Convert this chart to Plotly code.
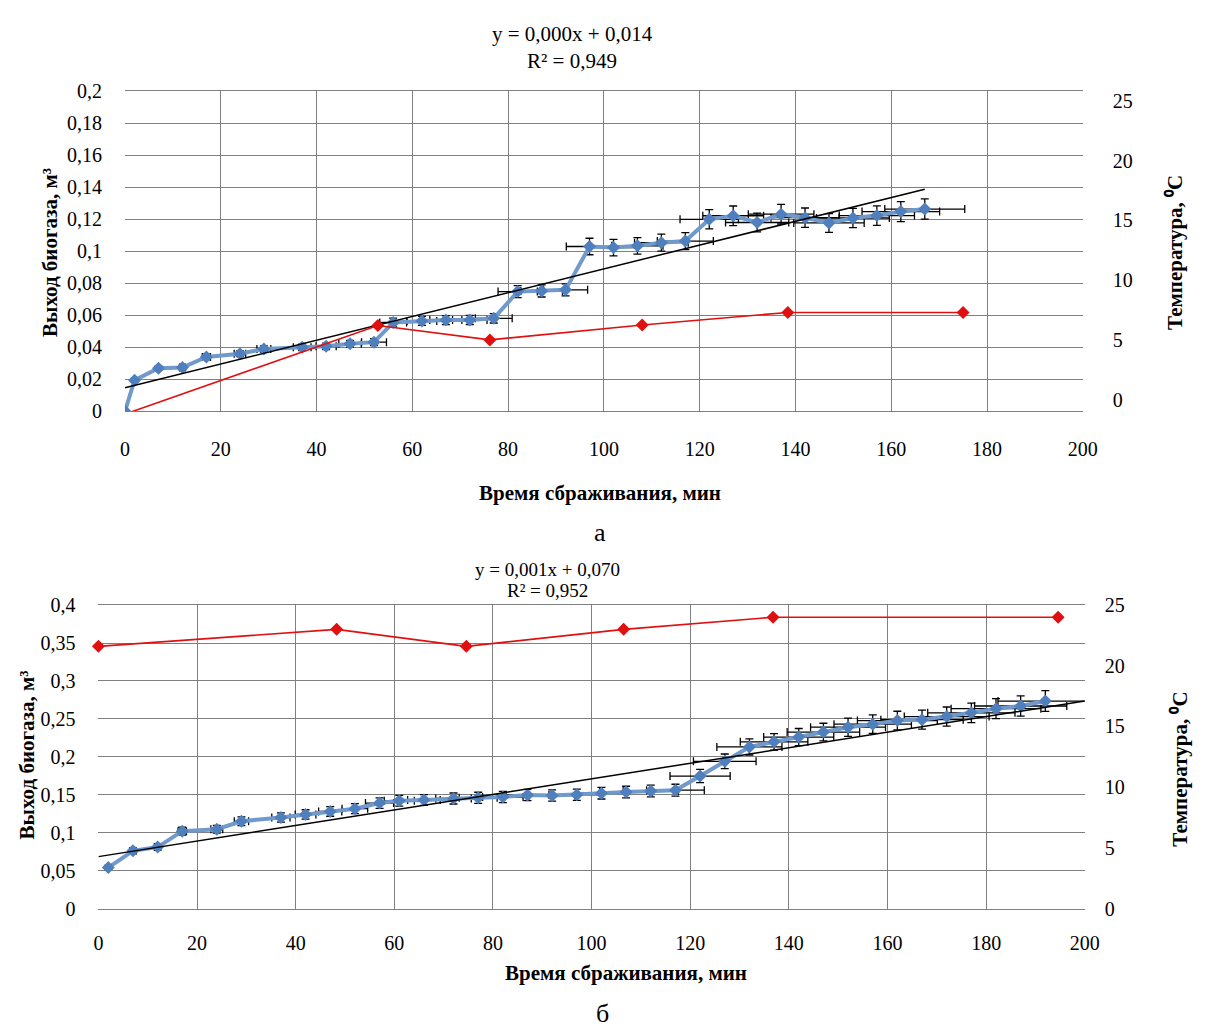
import plotly.graph_objects as go

# ---------------- data: chart "а" ----------------
a_time = [0, 2, 7, 12, 17, 24, 29, 37, 42, 47, 52, 56, 62, 67, 72, 77, 82, 87, 92, 97,
          102, 107, 112, 117, 122, 127, 132, 137, 142, 147, 152, 157, 162, 167]
a_gas = [0, 0.0194, 0.0269, 0.0273, 0.034, 0.036, 0.039, 0.040, 0.0406, 0.0422, 0.0432,
         0.0555, 0.0565, 0.057, 0.0571, 0.0581, 0.0748, 0.0752, 0.0759, 0.103, 0.1023,
         0.1034, 0.1054, 0.1064, 0.120, 0.1222, 0.118, 0.1232, 0.121, 0.1177, 0.1208,
         0.1223, 0.1248, 0.1264]
a_temp_time = [0.8, 52.8, 76.2, 108, 138.4, 175]
a_temp = [-1.1, 6.2, 5.0, 6.25, 7.3, 7.3]
a_trend_x = [0, 167]
a_trend_y = [0.0147, 0.1388]
a_eq = "y = 0,000x + 0,014"
a_r2 = "R² = 0,949"

# ---------------- data: chart "б" ----------------
b_time = [2, 7, 12, 17, 24, 29, 37, 42, 47, 52, 57, 61, 66, 72, 77, 82, 87, 92, 97, 102,
          107, 112, 117, 122, 127, 132, 137, 142, 147, 152, 157, 162, 167, 172, 177, 182,
          187, 192]
b_gas = [0.054, 0.076, 0.081, 0.102, 0.1045, 0.115, 0.12, 0.124, 0.128, 0.1316, 0.139,
         0.142, 0.143, 0.145, 0.146, 0.147, 0.1497, 0.149, 0.150, 0.152, 0.1535, 0.155,
         0.156, 0.1746, 0.194, 0.213, 0.2197, 0.226, 0.2326, 0.239, 0.243, 0.2477, 0.249,
         0.253, 0.258, 0.2635, 0.267, 0.2735]
b_temp_time = [0, 48.3, 74.6, 106.5, 136.8, 194.6]
b_temp = [21.6, 23.0, 21.6, 23.0, 24.0, 24.0]
b_trend_x = [0, 200]
b_trend_y = [0.0684, 0.2735]
b_eq = "y = 0,001x + 0,070"
b_r2 = "R² = 0,952"

# ---------------- ticks ----------------
x_ticks = [0, 20, 40, 60, 80, 100, 120, 140, 160, 180, 200]
a_y_ticks = [0, 0.02, 0.04, 0.06, 0.08, 0.1, 0.12, 0.14, 0.16, 0.18, 0.2]
a_y_text = ["0", "0,02", "0,04", "0,06", "0,08", "0,1", "0,12", "0,14", "0,16", "0,18", "0,2"]
b_y_ticks = [0, 0.05, 0.1, 0.15, 0.2, 0.25, 0.3, 0.35, 0.4]
b_y_text = ["0", "0,05", "0,1", "0,15", "0,2", "0,25", "0,3", "0,35", "0,4"]
t_ticks = [0, 5, 10, 15, 20, 25]

x_title = "Время сбраживания, мин"
y_title = "Выход биогаза, м³"
t_title = "Температура, ⁰С"

FONT = "Liberation Serif"
GRID = "#7f7f7f"
BLUE_LINE = "#7099cc"
BLUE_MK = "#4f7fbd"
RED = "#e01010"

W, H = 1205, 1035


def px_x(p):
    return p / W


def px_y(p):
    return 1 - p / H


fig = go.Figure()

err = dict(type="percent", value=5, color="black", thickness=1.3, width=4)

# chart a
fig.add_trace(go.Scatter(x=a_time, y=a_gas, mode="lines+markers", xaxis="x", yaxis="y",
                         line=dict(color=BLUE_LINE, width=4),
                         marker=dict(symbol="diamond", size=10, color=BLUE_MK),
                         error_x=err, error_y=err, showlegend=False))
fig.add_trace(go.Scatter(x=a_trend_x, y=a_trend_y, mode="lines", xaxis="x", yaxis="y",
                         line=dict(color="black", width=1.5), showlegend=False))
fig.add_trace(go.Scatter(x=a_temp_time, y=a_temp, mode="lines+markers", xaxis="x", yaxis="y2",
                         line=dict(color=RED, width=1.6),
                         marker=dict(symbol="diamond", size=10, color=RED),
                         cliponaxis=False, showlegend=False))

# chart b
fig.add_trace(go.Scatter(x=b_time, y=b_gas, mode="lines+markers", xaxis="x3", yaxis="y3",
                         line=dict(color=BLUE_LINE, width=4),
                         marker=dict(symbol="diamond", size=10, color=BLUE_MK),
                         error_x=err, error_y=err, showlegend=False))
fig.add_trace(go.Scatter(x=b_trend_x, y=b_trend_y, mode="lines", xaxis="x3", yaxis="y3",
                         line=dict(color="black", width=1.5), showlegend=False))
fig.add_trace(go.Scatter(x=b_temp_time, y=b_temp, mode="lines+markers", xaxis="x3", yaxis="y4",
                         line=dict(color=RED, width=1.6),
                         marker=dict(symbol="diamond", size=10, color=RED),
                         cliponaxis=False, showlegend=False))

tickfont = dict(family=FONT, size=20, color="black")

xa_common = dict(tickvals=x_ticks, ticktext=[str(v) for v in x_ticks], showgrid=True,
                 gridcolor=GRID, gridwidth=1.3, showline=True, linecolor=GRID, linewidth=1.3,
                 mirror=True, ticks="", tickfont=tickfont, zeroline=False)

fig.update_layout(
    width=W, height=H, margin=dict(l=0, r=0, t=0, b=0),
    paper_bgcolor="white", plot_bgcolor="white",
    font=dict(family=FONT, color="black"),
    xaxis=dict(domain=[px_x(122), px_x(1096)], range=[0, 200], anchor="y",
               ticklabelstandoff=20, **xa_common),
    yaxis=dict(domain=[px_y(409), px_y(82)], range=[0, 0.2], anchor="x",
               tickvals=a_y_ticks, ticktext=a_y_text, showgrid=True, gridcolor=GRID,
               gridwidth=1.3, zeroline=False, ticks="", tickfont=tickfont,
               ticklabelstandoff=22),
    yaxis2=dict(overlaying="y", side="right", anchor="x", range=[-0.98, 25.82],
                tickvals=t_ticks, ticktext=[str(v) for v in t_ticks], showgrid=False,
                zeroline=False, ticks="", tickfont=tickfont, ticklabelstandoff=29),
    xaxis3=dict(domain=[px_x(95), px_x(1098)], range=[0, 200], anchor="y3",
                ticklabelstandoff=16, **xa_common),
    yaxis3=dict(domain=[px_y(917), px_y(607)], range=[0, 0.4], anchor="x3",
                tickvals=b_y_ticks, ticktext=b_y_text, showgrid=True, gridcolor=GRID,
                gridwidth=1.3, zeroline=False, ticks="", tickfont=tickfont,
                ticklabelstandoff=22),
    yaxis4=dict(overlaying="y3", side="right", anchor="x3", range=[0, 25],
                tickvals=t_ticks, ticktext=[str(v) for v in t_ticks], showgrid=False,
                zeroline=False, ticks="", tickfont=tickfont, ticklabelstandoff=19),
)


def ann(text, x, y, size=17, bold=False, angle=0):
    fig.add_annotation(text=f"<b>{text}</b>" if bold else text, x=px_x(x), y=px_y(y),
                       xref="paper", yref="paper", showarrow=False, textangle=angle,
                       font=dict(family=FONT, size=size, color="black"),
                       xanchor="center", yanchor="middle", borderpad=0)


# chart a texts
ann(a_eq, 577, 23, size=21)
ann(a_r2, 577, 51, size=21)
ann(x_title, 605, 492, size=21, bold=True)
ann(y_title, 45, 247, size=21, bold=True, angle=-90)
ann(t_title, 1190, 247, size=21, bold=True, angle=-90)
ann("а", 605, 533, size=26)

# chart b texts
ann(b_eq, 552, 571, size=19)
ann(b_r2, 552, 592, size=19)
ann(x_title, 631, 983, size=21, bold=True)
ann(y_title, 22, 760, size=21, bold=True, angle=-90)
ann(t_title, 1194, 775, size=21, bold=True, angle=-90)
ann("б", 608, 1024, size=26)

fig.write_html("out.html")
